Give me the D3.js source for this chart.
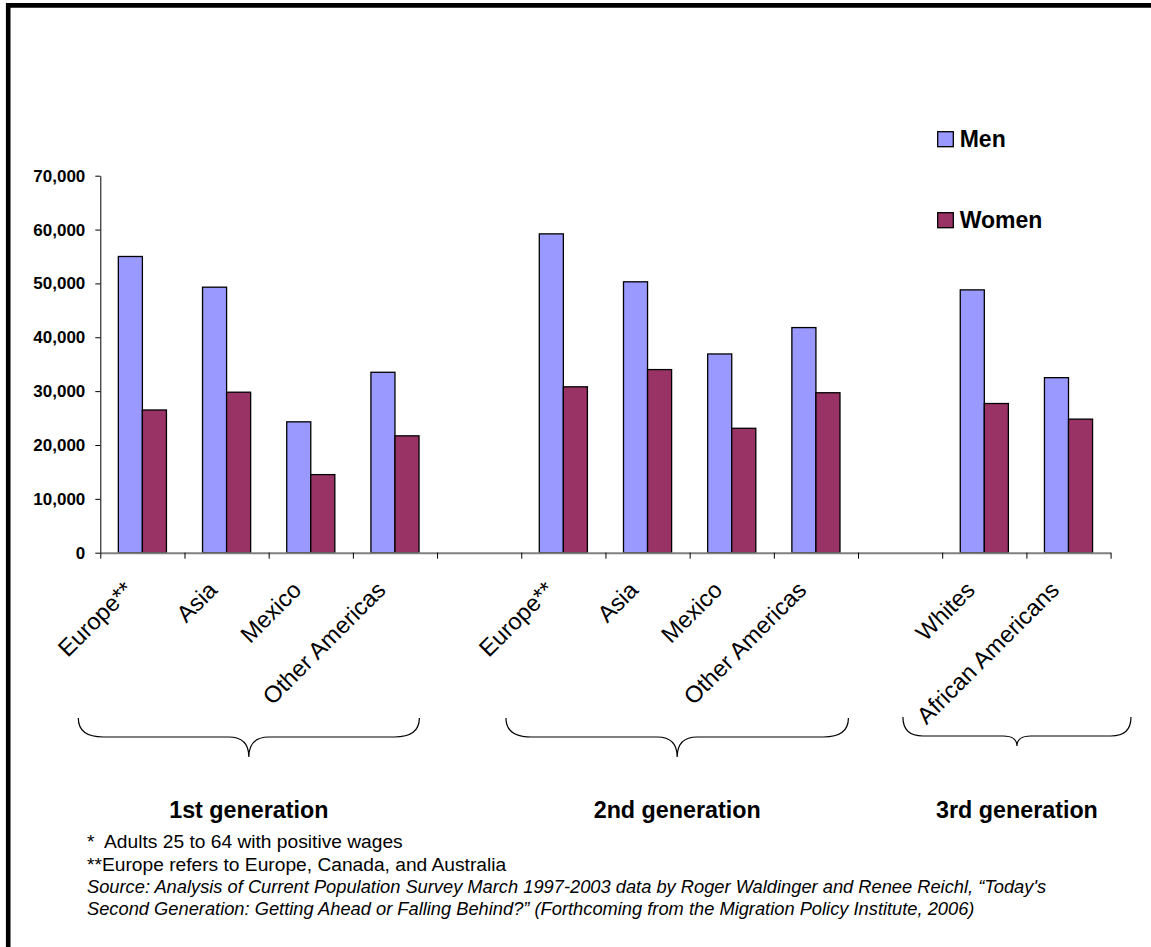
<!DOCTYPE html>
<html>
<head>
<meta charset="utf-8">
<script src="https://cdn.jsdelivr.net/npm/d3@7/dist/d3.min.js"></script>
<style>
  html, body { margin: 0; padding: 0; background: #fff; }
  svg { display: block; font-family: Arial, "Liberation Sans", sans-serif; }
</style>
</head>
<body>
<svg id="chart" width="1151" height="947"></svg>
<script>
// Median annual wages by generation, origin and sex
const generations = ["1st generation", "2nd generation", "3rd generation"];
const categories = ["Europe**", "Asia", "Mexico", "Other Americas",
                    "Europe**", "Asia", "Mexico", "Other Americas",
                    "Whites", "African Americans"];
const generationOf = [0, 0, 0, 0, 1, 1, 1, 1, 2, 2];
const series = ["Men", "Women"];
const men   = [55000, 49300, 24300, 33500, 59200, 50300, 36900, 41800, 48800, 32500];
const women = [26500, 29800, 14500, 21700, 30800, 34000, 23100, 29700, 27700, 24800];
const yTicks = [0, 10000, 20000, 30000, 40000, 50000, 60000, 70000];
const footnotes = [
  "*  Adults 25 to 64 with positive wages",
  "**Europe refers to Europe, Canada, and Australia"
];
const sourceLines = [
  "Source: Analysis of Current Population Survey March 1997-2003 data by Roger Waldinger and Renee Reichl, \u201CToday's",
  "Second Generation: Getting Ahead or Falling Behind?\u201D (Forthcoming from the Migration Policy Institute, 2006)"
];

const colors = { Men: "#9999FF", Women: "#993366" };

const svg = d3.select("#chart");

// Page frame (left and top rules)
svg.append("line").attr("x1", 8.2).attr("y1", 3).attr("x2", 8.2).attr("y2", 947)
  .attr("stroke", "#000").attr("stroke-width", 4.6);
svg.append("line").attr("x1", 6).attr("y1", 5.4).attr("x2", 1151).attr("y2", 5.4)
  .attr("stroke", "#000").attr("stroke-width", 4.6);

// Plot area
const plot = { left: 100.3, right: 1110.6, top: 175.7, bottom: 552.7 };

// One slot per category, with an empty slot between generations
const slotKeys = [];
categories.forEach((c, i) => {
  if (i > 0 && generationOf[i] !== generationOf[i - 1]) slotKeys.push("gap" + generationOf[i]);
  slotKeys.push("c" + i);
});

const x = d3.scaleBand().domain(slotKeys).range([plot.left, plot.right]).paddingInner(0).paddingOuter(0);
const xs = d3.scaleBand().domain(series).range([0, x.bandwidth()]).paddingInner(0).paddingOuter(0.75);
const y = d3.scaleLinear().domain([0, 70000]).range([plot.bottom, plot.top]);

// Y axis
const yAxis = svg.append("g")
  .attr("transform", `translate(${plot.left},0)`)
  .call(d3.axisLeft(y).tickValues(yTicks).tickFormat(d3.format(",")).tickSize(5).tickSizeOuter(0).tickPadding(10));
yAxis.select(".domain").attr("stroke", "#000").attr("stroke-width", 1);
yAxis.selectAll(".tick line").attr("stroke", "#000");
yAxis.selectAll(".tick text")
  .attr("font-family", "Arial, 'Liberation Sans', sans-serif")
  .attr("font-size", 17).attr("font-weight", "bold").attr("fill", "#000");

// Bars
const rows = categories.map((c, i) => ({ key: "c" + i, name: c, Men: men[i], Women: women[i] }));
const barGroups = svg.append("g").selectAll("g").data(rows).join("g")
  .attr("transform", d => `translate(${x(d.key)},0)`);
barGroups.selectAll("rect")
  .data(d => series.map(s => ({ s, v: d[s] })))
  .join("rect")
  .attr("x", d => xs(d.s))
  .attr("y", d => y(d.v))
  .attr("width", xs.bandwidth())
  .attr("height", d => y(0) - y(d.v))
  .attr("fill", d => colors[d.s])
  .attr("stroke", "#000")
  .attr("stroke-width", 1.3);

// X axis: ticks at slot boundaries
const xBound = d3.scaleLinear().domain([0, slotKeys.length]).range([plot.left, plot.right]);
const xAxis = svg.append("g")
  .attr("transform", `translate(0,${plot.bottom})`)
  .call(d3.axisBottom(xBound).tickValues(d3.range(slotKeys.length + 1)).tickFormat("").tickSize(6).tickSizeOuter(0));
xAxis.select(".domain").attr("stroke", "#808080").attr("stroke-width", 2);
xAxis.selectAll(".tick line").attr("stroke", "#000");

// Category labels, rotated
svg.append("g").selectAll("text").data(rows).join("text")
  .attr("transform", d => `translate(${x(d.key) + x.bandwidth() / 2 - 8},591.5) rotate(-45)`)
  .attr("text-anchor", "end")
  .attr("font-size", 23.5)
  .attr("fill", "#000")
  .text(d => d.name);

// Braces under each generation
const braceOffsets = [[-22, -17.7], [-15.3, -9.6], [-39.3, 20.4]];
const braceShape = [
  { top: 718, mid: 737, bot: 757, r: 25, r2: 20 },
  { top: 718, mid: 737, bot: 757, r: 25, r2: 20 },
  { top: 717, mid: 736, bot: 746, r: 20, r2: 14 }
];
generations.forEach((g, gi) => {
  const keys = rows.filter((d, i) => generationOf[i] === gi).map(d => d.key);
  const x0 = x(keys[0]) + braceOffsets[gi][0];
  const x1 = x(keys[keys.length - 1]) + x.bandwidth() + braceOffsets[gi][1];
  const cx = (x0 + x1) / 2;
  const b = braceShape[gi];
  const p = d3.path();
  p.moveTo(x0, b.top);
  p.quadraticCurveTo(x0, b.mid, x0 + b.r, b.mid);
  p.lineTo(cx - b.r2, b.mid);
  p.quadraticCurveTo(cx, b.mid, cx, b.bot);
  p.quadraticCurveTo(cx, b.mid, cx + b.r2, b.mid);
  p.lineTo(x1 - b.r, b.mid);
  p.quadraticCurveTo(x1, b.mid, x1, b.top);
  svg.append("path").attr("d", p.toString())
    .attr("fill", "none").attr("stroke", "#000").attr("stroke-width", 1.2);
  svg.append("text")
    .attr("x", cx).attr("y", 818)
    .attr("text-anchor", "middle")
    .attr("font-size", 23.3).attr("font-weight", "bold").attr("fill", "#000")
    .text(g);
});

// Legend
const legendY = [131.7, 212.7];
const legend = svg.append("g").selectAll("g").data(series).join("g")
  .attr("transform", (d, i) => `translate(937.7,${legendY[i]})`);
legend.append("rect")
  .attr("width", 15.6).attr("height", 15)
  .attr("fill", d => colors[d]).attr("stroke", "#000").attr("stroke-width", 1.3);
legend.append("text")
  .attr("x", 22).attr("y", 15)
  .attr("font-size", 23).attr("font-weight", "bold").attr("fill", "#000")
  .text(d => d);

// Notes and source
svg.append("g").selectAll("text").data(footnotes).join("text")
  .attr("x", 87).attr("y", (d, i) => 848 + i * 22.5)
  .attr("font-size", 19.2).attr("fill", "#000")
  .style("white-space", "pre")
  .text(d => d);
svg.append("g").selectAll("text").data(sourceLines).join("text")
  .attr("x", 87).attr("y", (d, i) => 893 + i * 22)
  .attr("font-size", 18.3).attr("font-style", "italic").attr("fill", "#000")
  .text(d => d);
</script>
</body>
</html>
